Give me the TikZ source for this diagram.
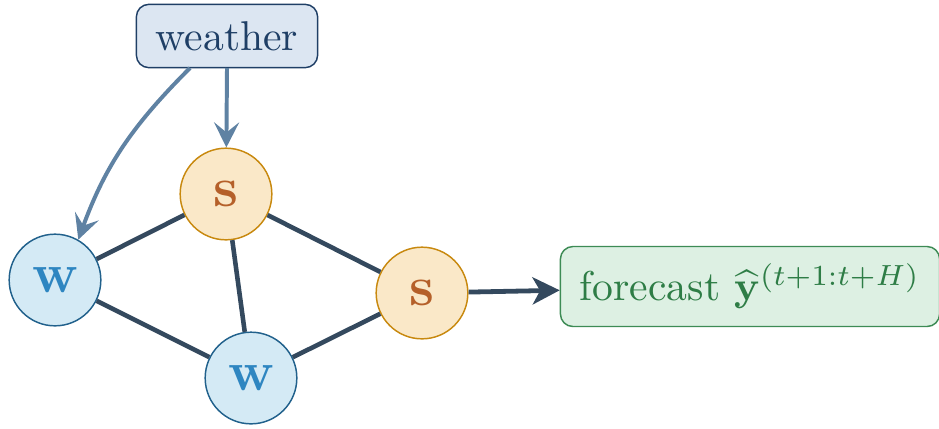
\documentclass[tikz,border=0pt]{standalone}
\usepackage{amsmath}
\usetikzlibrary{arrows.meta}
\definecolor{wfill}{HTML}{DCE6F2}
\definecolor{wdraw}{HTML}{1F3F66}
\definecolor{ffill}{HTML}{DDF0E3}
\definecolor{fdraw}{HTML}{3D8B55}
\definecolor{ftext}{HTML}{2E7D46}
\definecolor{sfill}{HTML}{FAE8C8}
\definecolor{sdraw}{HTML}{C8890F}
\definecolor{stext}{HTML}{B5602A}
\definecolor{cfill}{HTML}{D4EAF5}
\definecolor{cdraw}{HTML}{21618C}
\definecolor{ctext}{HTML}{2E86C1}
\definecolor{edgec}{HTML}{34495E}
\definecolor{arrc}{HTML}{5F82A3}
\tikzset{
  snode/.style={circle, draw=sdraw, fill=sfill, text=stext, line width=0.35pt, minimum size=22pt, inner sep=0pt, font=\fontsize{13.5}{15}\selectfont\bfseries},
  wnode/.style={circle, draw=cdraw, fill=cfill, text=ctext, line width=0.35pt, minimum size=22pt, inner sep=0pt, font=\fontsize{13.5}{15}\selectfont\bfseries},
  graphedge/.style={draw=edgec, line width=1.1pt},
  inarrow/.style={draw=arrc, line width=0.95pt, -{Stealth[length=6pt,width=6pt,inset=2.4pt]}},
  outarrow/.style={draw=edgec, line width=1.15pt, -{Stealth[length=6.5pt,width=6.5pt,inset=1.8pt]}},
  weatherbox/.style={rectangle, rounded corners=3pt, draw=wdraw, fill=wfill, text=wdraw, line width=0.35pt, minimum width=43.5pt, minimum height=15.2pt, inner sep=0pt},
  forecastbox/.style={rectangle, rounded corners=3pt, draw=fdraw, fill=ffill, text=ftext, line width=0.35pt, minimum width=91pt, minimum height=19.2pt, inner sep=0pt}
}
\begin{document}
\begin{tikzpicture}[x=0.24pt, y=-0.24pt]
\useasboundingbox (0,0) rectangle (939,428);
\node[weatherbox] (weather) at (227,36) {weather};
\node[forecastbox] (forecast) at (750,286.5) {forecast $\widehat{\mathbf{y}}^{(t+1:t+H)}$};
\node[wnode] (w1) at (55,280) {w};
\node[snode] (s1) at (226,194) {s};
\node[snode] (s2) at (422,293) {s};
\node[wnode] (w2) at (251,378) {w};
\draw[graphedge] (w1) -- (s1);
\draw[graphedge] (w1) -- (w2);
\draw[graphedge] (s1) -- (w2);
\draw[graphedge] (s1) -- (s2);
\draw[graphedge] (w2) -- (s2);
\coordinate (wa) at (227,68);
\coordinate (wb) at (190,68);
\draw[inarrow] (wa) -- (s1);
\draw[inarrow] (wb) to[out=-135, in=70] (w1.60);
\draw[outarrow] (s2) -- (forecast);
\end{tikzpicture}
\end{document}
